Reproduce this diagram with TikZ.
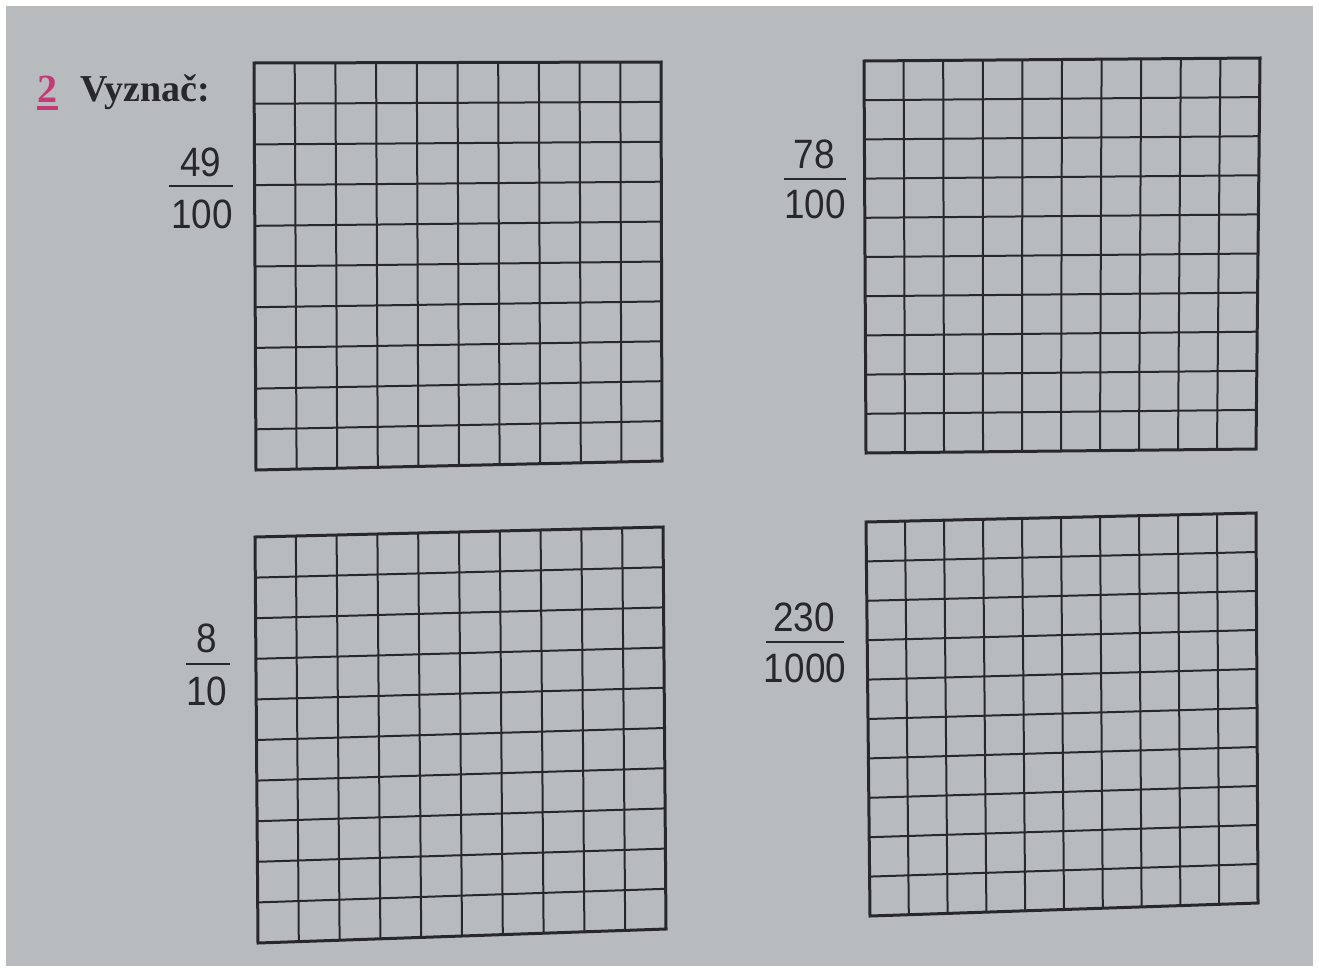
\documentclass[tikz,border=0pt]{standalone}
\usepackage{fontspec}
\setmainfont{Liberation Serif}
\newfontfamily\fracfont{Liberation Sans}
\usetikzlibrary{calc}
\definecolor{page}{RGB}{184,187,189}
\definecolor{ink}{RGB}{40,40,44}
\definecolor{pinkish}{RGB}{196,58,118}
\tikzset{
  outerline/.style={draw=ink,line width=3pt,line join=miter},
  innerline/.style={draw=ink,line width=2pt},
  fracnum/.style={inner sep=0pt,text=ink,font=\fracfont\fontsize{41}{41}\selectfont},
  fracbar/.style={draw=ink,line width=2pt},
}
\newcommand{\drawgridq}[4]{% TL TR BR BL
  \foreach \i in {1,...,9}{
    \draw[innerline] ($(#1)!\i/10!(#2)$) -- ($(#4)!\i/10!(#3)$);
    \draw[innerline] ($(#1)!\i/10!(#4)$) -- ($(#2)!\i/10!(#3)$);
  }
  \draw[outerline] (#1) -- (#2) -- (#3) -- (#4) -- cycle;
}
\newcommand{\sq}[1]{\scalebox{0.9}[1]{#1}}
\begin{document}
\begin{tikzpicture}[x=1pt,y=-1pt]
\useasboundingbox (0,0) rectangle (1319,969);
\fill[white] (0,0) rectangle (1319,969);
\fill[page] (6,6) rectangle (1313,966);
% heading
\node[inner sep=0pt,anchor=base west,text=pinkish,font=\bfseries\fontsize{40}{40}\selectfont] (num) at (37,102) {2};
\draw[pinkish,line width=4pt] (37,108) -- (58,108);
\node[inner sep=0pt,anchor=base west,text=ink,font=\bfseries\fontsize{38}{38}\selectfont] (head) at (80,101) {Vyznač:};
% grid corners
\coordinate (a1) at (254,63);  \coordinate (a2) at (661,62);
\coordinate (a3) at (662,461); \coordinate (a4) at (256,470);
\coordinate (b1) at (864,61);  \coordinate (b2) at (1260,58);
\coordinate (b3) at (1256,449);\coordinate (b4) at (866,453);
\coordinate (c1) at (255,537); \coordinate (c2) at (663,527);
\coordinate (c3) at (666,929); \coordinate (c4) at (258,943);
\coordinate (d1) at (866,522); \coordinate (d2) at (1256,513);
\coordinate (d3) at (1258,903);\coordinate (d4) at (870,916);
\drawgridq{a1}{a2}{a3}{a4}
\drawgridq{b1}{b2}{b3}{b4}
\drawgridq{c1}{c2}{c3}{c4}
\drawgridq{d1}{d2}{d3}{d4}
% fractions
\node[fracnum] (f1n) at (201,162) {\sq{49}};
\node[fracnum] (f1d) at (202,214) {\sq{100}};
\coordinate (f1l) at (169,186); \coordinate (f1r) at (233,186);
\draw[fracbar] (f1l) -- (f1r);
\node[fracnum] (f2n) at (814,154) {\sq{78}};
\node[fracnum] (f2d) at (815,204) {\sq{100}};
\coordinate (f2l) at (784,179); \coordinate (f2r) at (846,179);
\draw[fracbar] (f2l) -- (f2r);
\node[fracnum] (f3n) at (207,638) {\sq{8}};
\node[fracnum] (f3d) at (207,691) {\sq{10}};
\coordinate (f3l) at (186,664); \coordinate (f3r) at (230,664);
\draw[fracbar] (f3l) -- (f3r);
\node[fracnum] (f4n) at (804,617) {\sq{230}};
\node[fracnum] (f4d) at (805,668) {\sq{1000}};
\coordinate (f4l) at (766,642); \coordinate (f4r) at (844,642);
\draw[fracbar] (f4l) -- (f4r);
\end{tikzpicture}
\end{document}
